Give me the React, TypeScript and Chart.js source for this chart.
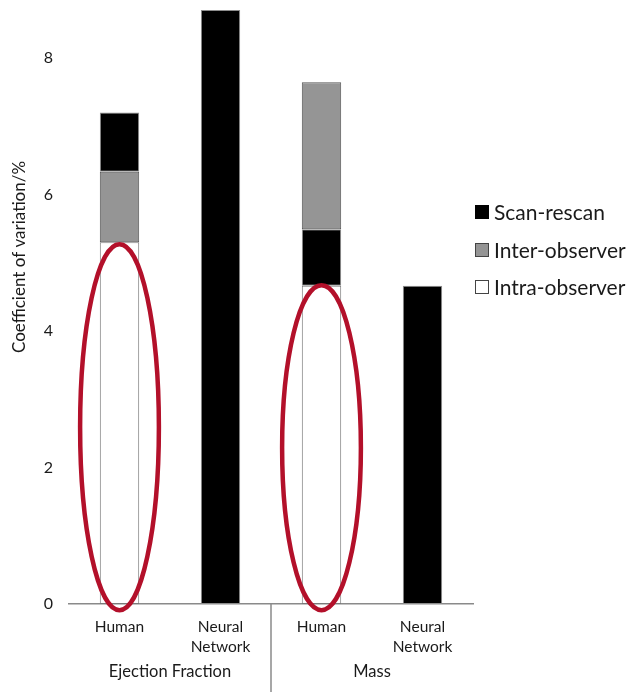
import React, { useEffect, useRef } from "react";
import { Chart, registerables } from "chart.js";

Chart.register(...registerables);

// ---- data ----
const categories: string[][] = [["Human"], ["Neural", "Network"], ["Human"], ["Neural", "Network"]];
const groups = ["Ejection Fraction", "Mass"];
const groupMembers: number[][] = [[0, 1], [2, 3]];
const seriesNames = ["Scan-rescan", "Inter-observer", "Intra-observer"];
const scanRescan = [0.87, 8.7, 0.83, 4.66];
const interObserver = [1.03, 0, 2.15, 0];
const intraObserver = [5.3, 0, 4.66, 0];
// order of the stacked segments from the bottom, per category
const stackOrder: string[][] = [
  ["intra", "inter", "scan"],
  ["scan"],
  ["intra", "scan", "inter"],
  ["scan"],
];
const yTickValues = [0, 2, 4, 6, 8];
const yMax = 8.7;
const yTitle = "Coefficient of variation/%";
const highlightCategories = [0, 2];
const highlightTop = [5.27, 4.67];
const highlightBottom = -0.09;

const seriesValues: Record<string, number[]> = {
  scan: scanRescan,
  inter: interObserver,
  intra: intraObserver,
};

function ranges(key: string) {
  return categories.map((_, i) => {
    let base = 0;
    for (const k of stackOrder[i]) {
      const v = seriesValues[k][i];
      if (k === key) return [base, base + v];
      base += v;
    }
    return null;
  });
}

const FONT = "Lato, 'Open Sans', sans-serif";
const TEXT = "#1a1a1a";

const styles = [
  { key: "scan", fill: "#000000", border: "#8c8c8c" },
  { key: "inter", fill: "#959595", border: "#555555" },
  { key: "intra", fill: "#ffffff", border: "#7a7a7a" },
];

const overlayPlugin = {
  id: "overlay",
  afterDraw(chart: any) {
    const { ctx, chartArea, scales } = chart;
    const xs = scales.x;
    const ys = scales.y;
    ctx.save();

    // red ellipses
    const meta = chart.getDatasetMeta(2);
    highlightCategories.forEach((ci, k) => {
      const el = meta.data[ci];
      const cx = xs.getPixelForValue(ci);
      const rx = el ? el.width : 40;
      const top = ys.getPixelForValue(highlightTop[k]);
      const bot = ys.getPixelForValue(highlightBottom);
      ctx.beginPath();
      ctx.ellipse(cx, (top + bot) / 2, rx, (bot - top) / 2, 0, 0, Math.PI * 2);
      ctx.strokeStyle = "#b3102a";
      ctx.lineWidth = 4.5;
      ctx.stroke();
    });

    // group separator + group labels
    const sepX = (xs.getPixelForValue(1) + xs.getPixelForValue(2)) / 2;
    ctx.beginPath();
    ctx.moveTo(sepX, chartArea.bottom);
    ctx.lineTo(sepX, chart.height);
    ctx.strokeStyle = "#8a8a8a";
    ctx.lineWidth = 1.5;
    ctx.stroke();

    ctx.fillStyle = TEXT;
    ctx.font = `16.5px ${FONT}`;
    ctx.textAlign = "center";
    ctx.textBaseline = "middle";
    groups.forEach((g, gi) => {
      const mem = groupMembers[gi];
      const cx = (xs.getPixelForValue(mem[0]) + xs.getPixelForValue(mem[mem.length - 1])) / 2;
      ctx.fillText(g, cx, chartArea.bottom + 68);
    });

    // y title
    ctx.save();
    ctx.translate(20, chartArea.top + 247);
    ctx.rotate(-Math.PI / 2);
    ctx.font = `17px ${FONT}`;
    ctx.fillText(yTitle, 0, 0);
    ctx.restore();

    // legend
    const lx = chartArea.right + 2;
    const rowsY = [212, 250, 287];
    ctx.font = `21px ${FONT}`;
    ctx.textAlign = "left";
    seriesNames.forEach((name, i) => {
      const s = styles[i];
      const y = rowsY[i];
      ctx.fillStyle = s.fill;
      ctx.fillRect(lx, y - 7, 14, 14);
      ctx.strokeStyle = i === 0 ? "#000" : "#444";
      ctx.lineWidth = 1;
      ctx.strokeRect(lx + 0.5, y - 6.5, 13, 13);
      ctx.fillStyle = TEXT;
      ctx.fillText(name, lx + 19, y + 1);
    });

    ctx.restore();
  },
};

export default function App() {
  const ref = useRef<HTMLCanvasElement>(null);
  useEffect(() => {
    if (!ref.current) return;
    const datasets = styles.map((s, i) => ({
      label: seriesNames[i],
      data: ranges(s.key) as any,
      backgroundColor: s.fill,
      borderColor: s.border,
      borderWidth: 1,
      borderSkipped: false as any,
      grouped: false,
      barPercentage: 0.39,
      categoryPercentage: 1,
    }));
    const chart = new Chart(ref.current, {
      type: "bar",
      data: { labels: categories as any, datasets },
      plugins: [overlayPlugin],
      options: {
        responsive: false,
        animation: false,
        layout: { padding: { top: 10, right: 167, left: 0, bottom: 0 } },
        plugins: { legend: { display: false }, tooltip: { enabled: false } },
        scales: {
          x: {
            grid: { display: false, drawTicks: false },
            border: { display: true, color: "#8a8a8a", width: 1.5 },
            ticks: {
              color: TEXT,
              font: { family: FONT, size: 15.5, lineHeight: 1.3 },
              padding: 13,
              maxRotation: 0,
              autoSkip: false,
            },
            afterFit: (s: any) => {
              s.height = 88;
              s.paddingLeft = 0;
              s.paddingRight = 0;
            },
          },
          y: {
            min: 0,
            max: yMax,
            grid: { display: false, drawTicks: false },
            border: { display: false },
            ticks: {
              color: TEXT,
              font: { family: FONT, size: 16 },
              padding: 16,
              stepSize: 2,
            },
            afterBuildTicks: (s: any) => {
              s.ticks = yTickValues.map((v) => ({ value: v }));
            },
            afterFit: (s: any) => {
              s.width = 69;
              s.paddingTop = 0;
              s.paddingBottom = 0;
            },
          },
        },
      },
    });
    return () => chart.destroy();
  }, []);
  return (
    <canvas
      ref={ref}
      width={640}
      height={692}
      style={{ position: "absolute", left: 0, top: 0, display: "block" }}
    />
  );
}
